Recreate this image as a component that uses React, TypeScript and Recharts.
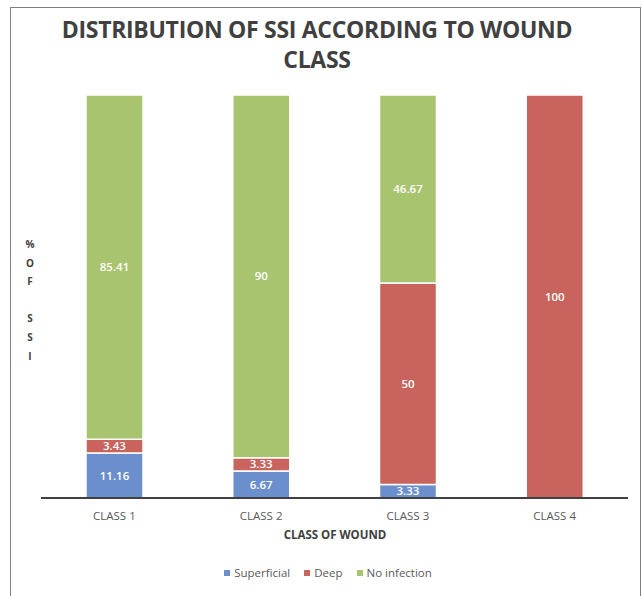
import { BarChart, Bar, XAxis, YAxis, Legend, LabelList } from 'recharts';

const categories = ['CLASS 1', 'CLASS 2', 'CLASS 3', 'CLASS 4'];
const superficial = [11.16, 6.67, 3.33, 0];
const deep = [3.43, 3.33, 50, 100];
const noInfection = [85.41, 90, 46.67, 0];

const data = categories.map((name, i) => ({
  name,
  superficial: superficial[i],
  deep: deep[i],
  noInfection: noInfection[i],
}));

const FONT = '"Open Sans", "Noto Sans", sans-serif';
const yLetters = ['%', 'O', 'F', '', 'S', 'S', 'I'];

const legendItems = [
  { label: 'Superficial', color: '#6A8FCC' },
  { label: 'Deep', color: '#C8645D' },
  { label: 'No infection', color: '#A9C46F' },
];

function LegendContent() {
  return (
    <div style={{ display: 'flex', justifyContent: 'center', gap: 14, fontFamily: FONT, fontSize: 11.5, color: '#595959' }}>
      {legendItems.map((it) => (
        <span key={it.label} style={{ display: 'flex', alignItems: 'center', gap: 4 }}>
          <span style={{ width: 6, height: 6, background: it.color, display: 'inline-block' }} />
          {it.label}
        </span>
      ))}
    </div>
  );
}

const labelStyle = { fill: '#fff', fontSize: 11.5, fontWeight: 600, fontFamily: FONT };

export default function App() {
  return (
    <div style={{ position: 'absolute', left: 0, top: 0, width: 642, height: 596, background: '#fff', overflow: 'hidden' }}>
      <div style={{ position: 'absolute', left: 10, top: 7, width: 629, height: 620, border: '1.5px solid #7f7f7f' }} />
      <div
        style={{
          position: 'absolute', left: 4, top: 14, width: 626, textAlign: 'center',
          fontFamily: FONT, fontWeight: 700, fontSize: 23, lineHeight: '30px', color: '#404040',
          letterSpacing: -0.3,
        }}
      >
        DISTRIBUTION OF SSI ACCORDING TO WOUND<br />CLASS
      </div>
      <div style={{ position: 'absolute', left: 22, top: 235, width: 16, textAlign: 'center', fontFamily: FONT, fontWeight: 700, fontSize: 10, color: '#404040' }}>
        {yLetters.map((l, i) => (
          <div key={i} style={{ height: 18.6, lineHeight: '18.6px' }}>{l || '\u00a0'}</div>
        ))}
      </div>
      <div style={{ position: 'absolute', left: 0, top: 527, width: 670, textAlign: 'center', fontFamily: FONT, fontWeight: 700, fontSize: 11.5, color: '#404040' }}>
        CLASS OF WOUND
      </div>
      <div style={{ position: 'absolute', left: 0, top: 0 }}>
        <BarChart width={642} height={596} data={data} margin={{ top: 95, left: 41, right: 14, bottom: 68 }} barSize={57}>
          <XAxis
            dataKey="name"
            tickLine={false}
            axisLine={{ stroke: '#404040', strokeWidth: 2 }}
            tick={{ fill: '#595959', fontSize: 11.5, fontFamily: FONT }}
            tickMargin={8}
          />
          <YAxis hide domain={[0, 100]} />
          <Legend
            verticalAlign="middle"
            align="center"
            content={<LegendContent />}
            wrapperStyle={{ top: 565, left: 0, width: 656 }}
          />
          <Bar dataKey="superficial" stackId="a" fill="#6A8FCC" stroke="#fff" strokeWidth={1.5} isAnimationActive={false}>
            <LabelList dataKey="superficial" position="center" style={labelStyle} />
          </Bar>
          <Bar dataKey="deep" stackId="a" fill="#C8645D" stroke="#fff" strokeWidth={1.5} isAnimationActive={false}>
            <LabelList dataKey="deep" position="center" style={labelStyle} />
          </Bar>
          <Bar dataKey="noInfection" stackId="a" fill="#A9C46F" stroke="#fff" strokeWidth={1.5} isAnimationActive={false}>
            <LabelList dataKey="noInfection" position="center" style={labelStyle} />
          </Bar>
        </BarChart>
      </div>
    </div>
  );
}
